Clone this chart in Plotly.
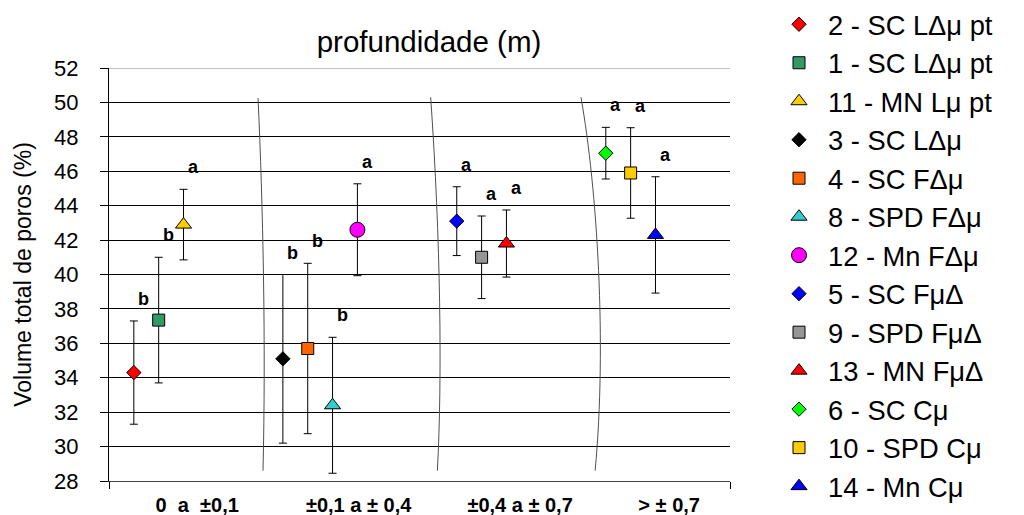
import plotly.graph_objects as go

# ---------------- data ----------------
series_names = [
    "2 - SC LΔμ pt", "1 - SC LΔμ pt", "11 - MN Lμ pt",
    "3 - SC LΔμ", "4 - SC FΔμ", "8 - SPD FΔμ", "12 - Mn FΔμ",
    "5 - SC FμΔ", "9 - SPD FμΔ", "13 - MN FμΔ",
    "6 - SC Cμ", "10 - SPD Cμ", "14 - Mn Cμ",
]
x_values = [1, 2, 3, 7, 8, 9, 10, 14, 15, 16, 20, 21, 22]
y_values = [34.3, 37.35, 42.9, 35.1, 35.7, 32.4, 42.6, 43.1, 41.0, 41.8, 47.05, 45.9, 42.3]
y_errors = [3.0, 3.65, 2.05, 4.9, 4.95, 3.95, 2.67, 2.0, 2.4, 1.95, 1.5, 2.63, 3.38]
sig_letters = ["b", "b", "a", "b", "b", "b", "a", "a", "a", "a", "a", "a", "a"]

depth_labels = ["0  a  ±0,1", "±0,1 a ± 0,4", "±0,4 a ± 0,7", "> ± 0,7"]
depth_groups = [[1, 2, 3], [7, 8, 9, 10], [14, 15, 16], [20, 21, 22]]

# ---------------- styles ----------------
symbols = ["diamond", "square", "triangle-up",
           "diamond", "square", "triangle-up", "circle",
           "diamond", "square", "triangle-up",
           "diamond", "square", "triangle-up"]
colors = ["#FF0000", "#339966", "#FFCC00",
          "#000000", "#FF6600", "#33CCCC", "#FF00FF",
          "#0000FF", "#969696", "#FF0000",
          "#00FF00", "#FFCC00", "#0000FF"]
sizes = {"diamond": 11, "square": 12, "triangle-up": 14, "circle": 15}

FONT = "Liberation Sans, Arial, sans-serif"

fig = go.Figure()
for i, name in enumerate(series_names):
    fig.add_trace(go.Scatter(
        x=[x_values[i]], y=[y_values[i]], name=name, mode="markers",
        marker=dict(symbol=symbols[i], color=colors[i], size=sizes[symbols[i]],
                    line=dict(color="black", width=1)),
        error_y=dict(type="data", array=[y_errors[i]], symmetric=True,
                     color="black", thickness=1, width=4),
    ))

# significance letters above error bars
for i, letter in enumerate(sig_letters):
    fig.add_annotation(
        x=x_values[i], y=y_values[i] + y_errors[i], text=letter,
        showarrow=False, xshift=10, yshift=22,
        font=dict(family=FONT, size=18, color="black", weight="bold"),
        xref="x", yref="y",
    )

# hand-drawn separators between depth groups (decorative)
separators = [
    "M 6.0,50.25 C 6.2,44 6.32,36 6.2,28.6",
    "M 12.95,50.3 C 13.35,42 13.42,34 13.22,28.6",
    "M 19.0,50.3 C 19.65,45 20.05,36 19.57,28.6",
]
for p in separators:
    fig.add_shape(type="path", path=p, xref="x", yref="y",
                  line=dict(color="#505050", width=1), layer="above")

# light top border line
fig.add_shape(type="line", xref="paper", yref="y", x0=0, x1=1, y0=52, y1=52,
              line=dict(color="#C0C0C0", width=2), layer="above")

label_pos = [sum(g) / len(g) + 1.55 for g in depth_groups]

fig.update_layout(
    width=1024, height=515,
    margin=dict(l=109, r=294, t=68, b=34, autoexpand=False),
    paper_bgcolor="white", plot_bgcolor="white",
    font=dict(family=FONT, color="black"),
    title=dict(text="profundidade (m)", x=429 / 1024, xanchor="center",
               y=1 - 42 / 515, yanchor="middle",
               font=dict(family=FONT, size=29.5, color="black")),
    showlegend=True,
    legend=dict(x=(770 - 109) / 621, xanchor="left", y=1, yanchor="top",
                yref="container", maxheight=1,
                font=dict(family=FONT, size=27.3, color="black"),
                itemwidth=48, tracegroupgap=0, bgcolor="rgba(0,0,0,0)"),
)

fig.update_xaxes(
    range=[0, 25], showgrid=False, zeroline=False,
    showline=True, linecolor="#404040", linewidth=1,
    tickmode="array", tickvals=label_pos, ticktext=depth_labels, ticks="",
    ticklabelstandoff=6,
    tickfont=dict(family=FONT, size=20, color="black", weight="bold"),
    minor=dict(tickmode="array", tickvals=[0, 25], ticks="outside",
               ticklen=7, tickcolor="black", showgrid=False),
)
fig.update_yaxes(
    range=[28, 52], tick0=28, dtick=2, showgrid=True, gridcolor="black",
    gridwidth=1, zeroline=False, showline=True, linecolor="black", linewidth=1,
    ticks="outside", ticklen=8, tickcolor="black", ticklabelstandoff=17,
    tickfont=dict(family=FONT, size=22, color="black"),
    title=dict(text="Volume total de poros (%)", standoff=16,
               font=dict(family=FONT, size=23, color="black")),
)

fig.write_html("out.html", config={"displayModeBar": False},
               post_script="document.body.style.margin='0';")
